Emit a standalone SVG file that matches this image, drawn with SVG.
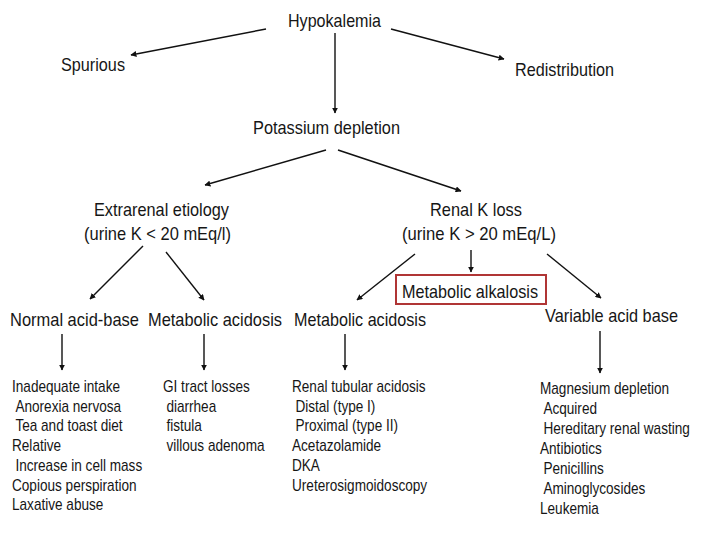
<svg xmlns="http://www.w3.org/2000/svg" width="720" height="540" viewBox="0 0 720 540">
<style>
text{font-family:"Liberation Sans",Arial,sans-serif;fill:#161616}
.h{font-size:19px}
.l{font-size:16px}
.c line{stroke:#111;stroke-width:1.4;marker-end:url(#ah)}
</style>
<defs>
<marker id="ah" viewBox="0 0 10 10" refX="9" refY="5" markerWidth="6" markerHeight="6" markerUnits="userSpaceOnUse" orient="auto">
<path d="M0,0 L10,5 L0,10 Z" fill="#111"/>
</marker>
</defs>
<rect width="720" height="540" fill="#fff"/>
<g class="c" id="connectors">
<line x1="266" y1="29" x2="131" y2="55"/>
<line x1="391" y1="29" x2="504" y2="59"/>
<line x1="335" y1="33" x2="335" y2="113"/>
<line x1="326" y1="150" x2="205" y2="185"/>
<line x1="338" y1="150" x2="461" y2="191"/>
<line x1="143" y1="246" x2="90" y2="299"/>
<line x1="166" y1="252" x2="204" y2="300"/>
<line x1="415" y1="254" x2="357" y2="300"/>
<line x1="471" y1="250" x2="471" y2="272"/>
<line x1="547" y1="254" x2="601" y2="298"/>
<line x1="62" y1="334" x2="62" y2="370"/>
<line x1="204" y1="334" x2="204" y2="370"/>
<line x1="345" y1="334" x2="345" y2="370"/>
<line x1="600" y1="331" x2="600" y2="373"/>
</g>
<g id="hypokalemia"><text class="h" x="288" y="27" textLength="93" lengthAdjust="spacingAndGlyphs">Hypokalemia</text></g>
<g id="spurious"><text class="h" x="61" y="71" textLength="64" lengthAdjust="spacingAndGlyphs">Spurious</text></g>
<g id="redistribution"><text class="h" x="515" y="76" textLength="99" lengthAdjust="spacingAndGlyphs">Redistribution</text></g>
<g id="potassium-depletion"><text class="h" x="253" y="134" textLength="147" lengthAdjust="spacingAndGlyphs">Potassium depletion</text></g>
<g id="extrarenal">
<text class="h" x="94" y="216" textLength="135" lengthAdjust="spacingAndGlyphs">Extrarenal etiology</text>
<text class="h" x="84" y="240" textLength="147" lengthAdjust="spacingAndGlyphs">(urine K &lt; 20 mEq/l)</text>
</g>
<g id="renal">
<text class="h" x="430" y="216" textLength="92" lengthAdjust="spacingAndGlyphs">Renal K loss</text>
<text class="h" x="402" y="240" textLength="154" lengthAdjust="spacingAndGlyphs">(urine K &gt; 20 mEq/L)</text>
</g>
<g id="normal-acid-base"><text class="h" x="10" y="326" textLength="129" lengthAdjust="spacingAndGlyphs">Normal acid-base</text></g>
<g id="metabolic-acidosis-1"><text class="h" x="148" y="326" textLength="134" lengthAdjust="spacingAndGlyphs">Metabolic acidosis</text></g>
<g id="metabolic-acidosis-2"><text class="h" x="294" y="326" textLength="132" lengthAdjust="spacingAndGlyphs">Metabolic acidosis</text></g>
<g id="metabolic-alkalosis">
<rect x="396" y="275" width="150" height="29" fill="none" stroke="#b03535" stroke-width="2"/>
<text class="h" x="402" y="298" textLength="136" lengthAdjust="spacingAndGlyphs">Metabolic alkalosis</text>
</g>
<g id="variable-acid-base"><text class="h" x="545" y="322" textLength="133" lengthAdjust="spacingAndGlyphs">Variable acid base</text></g>
<g id="list-normal" transform="translate(12,0) scale(0.85,1)">
<text class="l" x="0" y="392">Inadequate intake</text>
<text class="l" x="4" y="412">Anorexia nervosa</text>
<text class="l" x="4" y="431.5">Tea and toast diet</text>
<text class="l" x="0" y="451">Relative</text>
<text class="l" x="4" y="471">Increase in cell mass</text>
<text class="l" x="0" y="491">Copious perspiration</text>
<text class="l" x="0" y="510">Laxative abuse</text>
</g>
<g id="list-gi" transform="translate(163,0) scale(0.85,1)">
<text class="l" x="0" y="392">GI tract losses</text>
<text class="l" x="4" y="412">diarrhea</text>
<text class="l" x="4" y="431.5">fistula</text>
<text class="l" x="4" y="451">villous adenoma</text>
</g>
<g id="list-renal-acidosis" transform="translate(292,0) scale(0.85,1)">
<text class="l" x="0" y="392">Renal tubular acidosis</text>
<text class="l" x="4" y="412">Distal (type I)</text>
<text class="l" x="4" y="431.5">Proximal (type II)</text>
<text class="l" x="0" y="451">Acetazolamide</text>
<text class="l" x="0" y="471">DKA</text>
<text class="l" x="0" y="491">Ureterosigmoidoscopy</text>
</g>
<g id="list-variable" transform="translate(540,0) scale(0.85,1)">
<text class="l" x="0" y="394">Magnesium depletion</text>
<text class="l" x="4" y="414">Acquired</text>
<text class="l" x="4" y="434">Hereditary renal wasting</text>
<text class="l" x="0" y="454">Antibiotics</text>
<text class="l" x="4" y="474">Penicillins</text>
<text class="l" x="4" y="494">Aminoglycosides</text>
<text class="l" x="0" y="514">Leukemia</text>
</g>
</svg>
